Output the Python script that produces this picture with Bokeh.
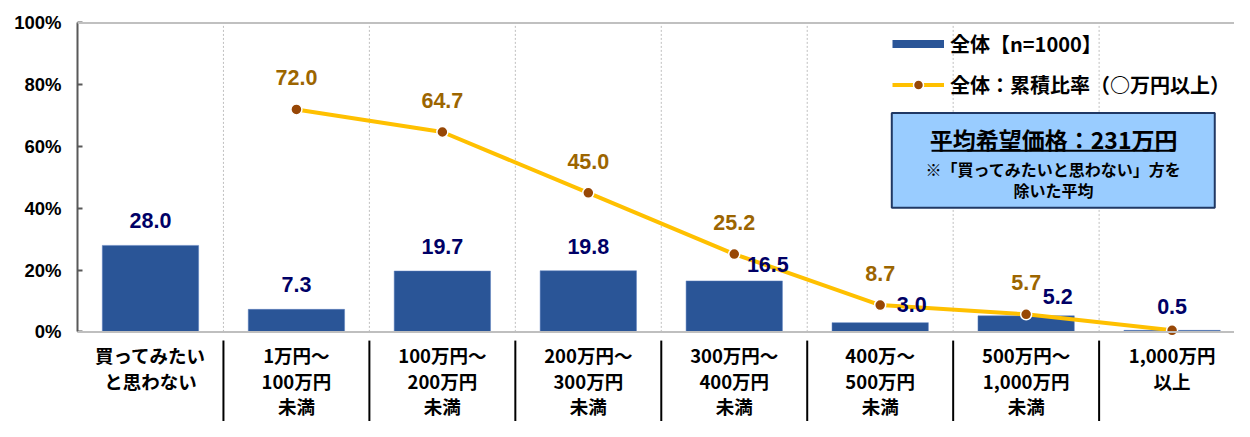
from bokeh.plotting import figure
from bokeh.models import (Range1d, FixedTicker, PrintfTickFormatter, Legend, LegendItem,
                          BoxAnnotation, Label, ColumnDataSource, Span)
from bokeh.core.properties import value
from bokeh.embed import file_html
from bokeh.resources import INLINE

# ---------------- data ----------------
categories = ["買ってみたい\nと思わない", "1万円～\n100万円\n未満", "100万円～\n200万円\n未満",
              "200万円～\n300万円\n未満", "300万円～\n400万円\n未満", "400万～\n500万円\n未満",
              "500万円～\n1,000万円\n未満", "1,000万円\n以上"]
share = [28.0, 7.3, 19.7, 19.8, 16.5, 3.0, 5.2, 0.5]
cumulative = [72.0, 64.7, 45.0, 25.2, 8.7, 5.7, 0.5]   # categories 2..8
y_ticks = [0, 20, 40, 60, 80, 100]
bar_name = "全体【n=1000】"
line_name = "全体：累積比率（○万円以上）"
avg_title = "平均希望価格：231万円"
avg_note = ["※「買ってみたいと思わない」方を", "除いた平均"]

# ---------------- styling / layout ----------------
W, H = 1234, 421
KX, KY = W / 1250, H / 437          # reference-pixel -> figure-pixel
FRAME_LEFT = 77.5 * KX
CAT_PX = 147.9 * KX
ZERO_Y = 344 * KY
TOP_Y = 23.3 * KY
PXU = (ZERO_Y - TOP_Y) / 100.0
FRAME_TOP = 21

def sx(ref_px):
    return (ref_px * KX - FRAME_LEFT) / CAT_PX

def sy(ref_py):
    return (ZERO_Y - ref_py * KY) / PXU

BAR_COLOR = "#2A5597"
LINE_COLOR = "#FFC000"
MARK_COLOR = "#974706"
BAR_LBL = "#000066"
LINE_LBL = "#9C6500"
NUM_FONT = "Liberation Sans"
JP_FONT = "Noto Sans CJK JP"

bar_lbl_dx = [0, 0, 0, 0, 34, 32, 32, 0]          # reference px
bar_lbl_dy = [25.5, 25.5, 25, 25, 17, 19, 20, 25]  # reference px above bar top

n = len(categories)
p = figure(width=W, height=H, output_backend="svg", toolbar_location=None,
           x_range=Range1d(0, (W - FRAME_LEFT) / CAT_PX),
           y_range=Range1d(-(H - ZERO_Y) / PXU, 100 + (TOP_Y - FRAME_TOP) / PXU),
           x_axis_location=None, min_border_left=int(round(FRAME_LEFT)), min_border_right=0,
           min_border_top=FRAME_TOP, min_border_bottom=0)
p.outline_line_color = None
p.grid.visible = False
p.background_fill_color = "white"
p.border_fill_color = "white"

# y axis
ya = p.yaxis[0]
ya.ticker = FixedTicker(ticks=y_ticks)
ya.formatter = PrintfTickFormatter(format="%d%%")
ya.bounds = (0, 100)
ya.axis_line_color = "#595959"
ya.axis_line_width = 2
ya.major_tick_line_color = "#595959"
ya.major_tick_line_width = 2
ya.major_tick_in = 5
ya.major_tick_out = 0
ya.minor_tick_line_color = None
ya.major_label_standoff = 16
ya.major_label_text_font = NUM_FONT
ya.major_label_text_font_size = "18.5px"
ya.major_label_text_font_style = "bold"
ya.major_label_text_color = "black"

# gridlines / frame lines
bounds = list(range(1, n))
p.segment(x0=bounds, y0=[0] * len(bounds), x1=bounds, y1=[100] * len(bounds),
          line_color="#BFBFBF", line_width=1, line_dash="2 2")
p.add_layout(Span(location=100, dimension="width", line_color="#C0C0C0", line_width=2))
p.add_layout(Span(location=0, dimension="width", line_color="#BFBFBF", line_width=2))

# separators under axis
p.segment(x0=bounds, y0=[sy(353)] * len(bounds), x1=bounds, y1=[sy(460)] * len(bounds),
          line_color="black", line_width=2)

# bars
xc = [i + 0.5 for i in range(n)]
bar_src = ColumnDataSource(dict(x=xc, top=share))
bars = p.vbar(x="x", top="top", width=0.66, source=bar_src, fill_color=BAR_COLOR,
              line_color="#5A7FBF", line_width=0.5)

# cumulative line
lx = xc[1:]
line_src = ColumnDataSource(dict(x=lx, y=cumulative))
ln = p.line(x="x", y="y", source=line_src, line_color=LINE_COLOR, line_width=4)
mk = p.scatter(x="x", y="y", source=line_src, size=11, fill_color=MARK_COLOR,
               line_color="white", line_width=1.5)

# bar labels
bl_src = ColumnDataSource(dict(
    x=[x + dx / 147.9 for x, dx in zip(xc, bar_lbl_dx)],
    y=[v + dy * KY / PXU for v, dy in zip(share, bar_lbl_dy)],
    t=[f"{v:.1f}" for v in share]))
p.text(x="x", y="y", text="t", source=bl_src, text_align="center", text_baseline="middle",
       text_font=value(NUM_FONT), text_font_size="21.5px", text_font_style="bold",
       text_color=BAR_LBL)

# line labels (last point shares the bar's label)
ll_src = ColumnDataSource(dict(
    x=lx[:-1], y=[v + 33 * KY / PXU for v in cumulative[:-1]],
    t=[f"{v:.1f}" for v in cumulative[:-1]]))
p.text(x="x", y="y", text="t", source=ll_src, text_align="center", text_baseline="middle",
       text_font=value(NUM_FONT), text_font_size="21.5px", text_font_style="bold",
       text_color=LINE_LBL)

# category labels
row_y = [368, 394.5, 420.5]   # reference px
cx, cy, ct = [], [], []
for i, c in enumerate(categories):
    for k, row in enumerate(c.split("\n")):
        cx.append(i + 0.5)
        cy.append(sy(row_y[k]))
        ct.append(row)
p.text(x=cx, y=cy, text=ct, text_align="center", text_baseline="middle",
       text_font=value(JP_FONT), text_font_size="18.5px", text_font_style="bold",
       text_color="black")

# legend
leg_bar = p.line(x=[0, 1], y=[-900, -900], line_color=BAR_COLOR, line_width=8)
legend = Legend(items=[LegendItem(label=bar_name, renderers=[leg_bar]),
                       LegendItem(label=line_name, renderers=[ln, mk])],
                location=(815, 322), orientation="vertical",
                glyph_width=52, glyph_height=25, label_height=30, spacing=11,
                label_standoff=6, padding=0, margin=0,
                border_line_alpha=0, background_fill_alpha=0,
                label_text_font=JP_FONT, label_text_font_size="20px",
                label_text_font_style="bold", label_text_color="black")
p.add_layout(legend)

# average price box
p.add_layout(BoxAnnotation(left=sx(902.7), right=sx(1230), top=sy(116.7), bottom=sy(215),
                           fill_color="#99CCFF", fill_alpha=1, line_color="#203864",
                           line_alpha=1, line_width=2))
p.add_layout(Label(x=sx(1066.7), y=sy(143.5), text=avg_title, text_align="center",
                   text_baseline="middle", text_font=JP_FONT, text_font_size="23px",
                   text_font_style="bold", text_color="black"))
p.add_layout(BoxAnnotation(left=sx(943), right=sx(1190), top=sy(155), bottom=sy(157),
                           fill_color="black", fill_alpha=1, line_alpha=0))
for k, row in enumerate(avg_note):
    p.add_layout(Label(x=sx(1066.7), y=sy(175 + 22 * k), text=row, text_align="center",
                       text_baseline="middle", text_font=JP_FONT, text_font_size="16px",
                       text_font_style="bold", text_color="black"))

open("out.html", "w").write(file_html(p, INLINE, "chart"))
